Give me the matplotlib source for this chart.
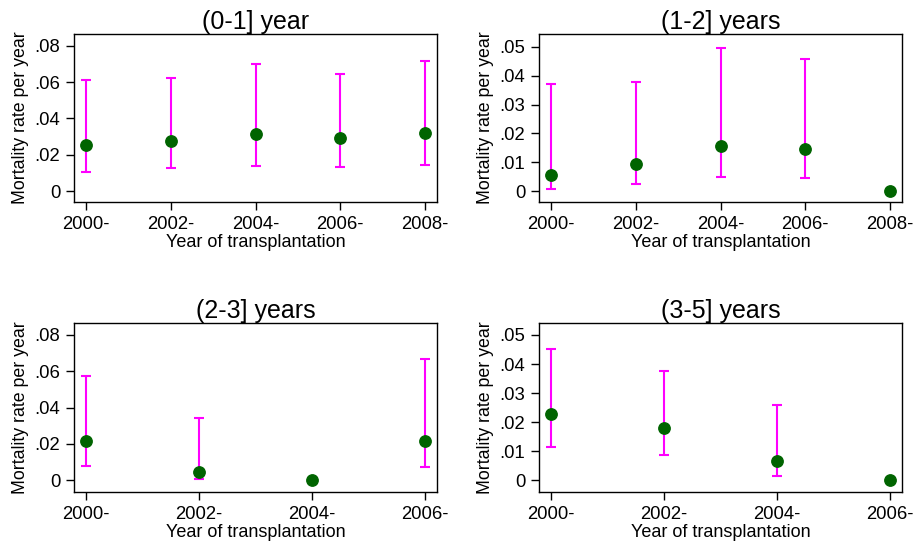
import matplotlib
matplotlib.use("Agg")
import matplotlib.pyplot as plt
import numpy as np
from matplotlib.ticker import FuncFormatter

plt.rcParams["font.family"] = ["Liberation Sans", "DejaVu Sans"]

# panel data: mortality rate per year with 95% CI (nan = no interval)
titles = ["(0-1] year", "(1-2] years", "(2-3] years", "(3-5] years"]
years_a = [2000, 2002, 2004, 2006, 2008]
years_b = [2000, 2002, 2004, 2006]

rate_01 = [0.0253, 0.0277, 0.0312, 0.0290, 0.0321]
lo_01 = [0.0106, 0.0127, 0.0141, 0.0132, 0.0147]
hi_01 = [0.0613, 0.0620, 0.0697, 0.0642, 0.0716]

rate_12 = [0.0055, 0.0093, 0.0158, 0.0148, 0.0]
lo_12 = [0.0007, 0.0024, 0.0050, 0.0047, np.nan]
hi_12 = [0.0372, 0.0377, 0.0495, 0.0458, np.nan]

rate_23 = [0.0218, 0.0048, 0.0, 0.0215]
lo_23 = [0.0081, 0.0007, np.nan, 0.0072]
hi_23 = [0.0576, 0.0345, np.nan, 0.0666]

rate_35 = [0.0227, 0.0179, 0.0067, 0.0]
lo_35 = [0.0115, 0.0087, 0.0016, np.nan]
hi_35 = [0.0453, 0.0376, 0.0260, np.nan]

yticks_a = [0, 0.02, 0.04, 0.06, 0.08]
yticks_b = [0, 0.01, 0.02, 0.03, 0.04, 0.05]

panels = [
    (years_a, rate_01, lo_01, hi_01, yticks_a, (-0.0059, 0.0864)),
    (years_a, rate_12, lo_12, hi_12, yticks_b, (-0.0037, 0.0544)),
    (years_b, rate_23, lo_23, hi_23, yticks_a, (-0.0064, 0.0864)),
    (years_b, rate_35, lo_35, hi_35, yticks_b, (-0.0040, 0.0540)),
]

positions = [
    [0.0809, 0.6266, 0.3967, 0.3105],
    [0.5891, 0.6266, 0.3967, 0.3105],
    [0.0809, 0.0906, 0.3967, 0.3118],
    [0.5891, 0.0906, 0.3967, 0.3118],
]

magenta = "#FF00FF"
green = "#006400"


def fmt_rate(v, _pos):
    if abs(v) < 1e-12:
        return "0"
    return f"{v:.2f}".lstrip("0")


fig = plt.figure(figsize=(9.15, 5.41), dpi=100)

for title, (years, rate, lo, hi, yticks, ylim), pos in zip(titles, panels, positions):
    ax = fig.add_axes(pos)
    x = np.arange(len(years))
    rate = np.array(rate)
    lo = np.array(lo)
    hi = np.array(hi)
    ok = ~np.isnan(lo)
    ax.errorbar(x[ok], rate[ok], yerr=[rate[ok] - lo[ok], hi[ok] - rate[ok]],
                fmt="none", ecolor=magenta, elinewidth=1.5, capsize=3.6, capthick=1.5, zorder=2)
    ax.plot(x, rate, "o", color=green, markersize=8.2, zorder=3)

    span = len(years) - 1
    m = span * 36 / 1016
    ax.set_xlim(-m, span + m)
    ax.set_ylim(*ylim)
    ax.set_xticks(x)
    ax.set_xticklabels([f"{y}-" for y in years])
    ax.set_yticks(yticks)
    ax.yaxis.set_major_formatter(FuncFormatter(fmt_rate))
    ax.tick_params(axis="both", labelsize=13.3, length=6, width=1, direction="out", pad=4)
    ax.set_xlabel("Year of transplantation", fontsize=13, labelpad=0.5)
    ax.set_ylabel("Mortality rate per year", fontsize=12.8, labelpad=3.5)
    ax.set_title(title, fontsize=18, pad=3)
    for sp in ax.spines.values():
        sp.set_linewidth(1.0)

fig.savefig("out.png", dpi=100)
